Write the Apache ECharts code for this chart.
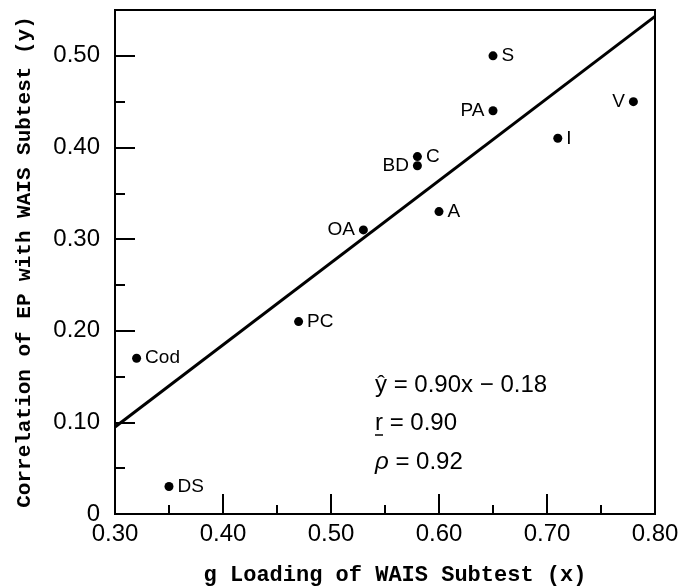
<!DOCTYPE html>
<html><head><meta charset="utf-8">
<script src="https://cdn.jsdelivr.net/npm/echarts@6/dist/echarts.min.js"></script>
<style>html,body{margin:0;padding:0;background:#fff}#c{width:690px;height:588px}</style>
</head><body><div id="c"></div>
<script>
const subtests = ['S', 'PA', 'V', 'I', 'C', 'BD', 'A', 'OA', 'PC', 'Cod', 'DS'];
const gLoading = [0.65, 0.65, 0.78, 0.71, 0.58, 0.58, 0.60, 0.53, 0.47, 0.32, 0.35];
const epCorr   = [0.50, 0.44, 0.45, 0.41, 0.39, 0.38, 0.33, 0.31, 0.21, 0.17, 0.03];
const fitX = [0.30, 0.80];
const fitY = [0.095, 0.543];
const xTickLabels = ['0.30', '0.40', '0.50', '0.60', '0.70', '0.80'];
const yTickLabels = ['0', '0.10', '0.20', '0.30', '0.40', '0.50'];
const annotLines = ['ŷ = 0.90x − 0.18', 'r = 0.90', '{i|ρ} = 0.92'];

const leftLabeled = new Set(['PA', 'V', 'BD', 'OA']);
const FONT = 'Liberation Sans, Arial, sans-serif';
const TITLE_FONT = 'Liberation Mono, DejaVu Sans Mono, monospace';

const chart = echarts.init(document.getElementById('c'), null, {renderer: 'canvas'});

const scatterData = subtests.map((n, i) => ({
  name: n,
  value: [gLoading[i], epCorr[i]],
  label: {position: leftLabeled.has(n) ? 'left' : 'right'}
}));
const fitData = fitX.map((x, i) => [x, fitY[i]]);

const tickStyle = {color: '#000', width: 2};
const annotY = [385, 423, 462];

const graphics = annotLines.map((t, i) => ({
  type: 'text', x: 375, y: annotY[i],
  style: {text: t, fontSize: 24, fontFamily: FONT, fill: '#000', verticalAlign: 'middle',
          rich: {i: {fontStyle: 'italic', fontSize: 24, fontFamily: FONT, fill: '#000'}}}
}));
graphics.push({type: 'line', shape: {x1: 375, y1: 435, x2: 383, y2: 435}, style: {stroke: '#000', lineWidth: 1.5}});

chart.setOption({
  animation: false,
  backgroundColor: '#fff',
  grid: {left: 115, right: 35, top: 10, bottom: 74, show: true, borderColor: '#000', borderWidth: 2, outerBoundsMode: 'none', containLabel: false},
  xAxis: {
    type: 'value', min: 0.3, max: 0.8, interval: 0.1,
    axisLine: {show: true, lineStyle: tickStyle},
    axisTick: {show: true, inside: true, length: 20, lineStyle: tickStyle},
    minorTick: {show: true, splitNumber: 2, length: 9, lineStyle: tickStyle},
    splitLine: {show: false},
    axisLabel: {
      margin: 8, fontSize: 24, color: '#000', fontFamily: FONT,
      formatter: v => xTickLabels[Math.round((v - 0.3) / 0.1)] || ''
    },
    name: 'g Loading of WAIS Subtest (x)', nameLocation: 'middle', nameGap: 50,
    nameTextStyle: {fontSize: 22, fontFamily: TITLE_FONT, color: '#000', fontWeight: 'bold', padding: [0, 0, 0, 20]}
  },
  yAxis: [{
    type: 'value', min: 0, max: 0.55, interval: 0.1,
    axisLine: {show: true, lineStyle: tickStyle},
    axisTick: {show: true, inside: true, length: 20, lineStyle: tickStyle},
    splitLine: {show: false},
    axisLabel: {
      margin: 15, fontSize: 24, color: '#000', fontFamily: FONT,
      formatter: v => (v > 0.51 ? '' : (yTickLabels[Math.round(v / 0.1)] || ''))
    },
    name: 'Correlation of EP with WAIS Subtest (y)', nameLocation: 'middle', nameGap: 80,
    nameTextStyle: {fontSize: 21, fontFamily: TITLE_FONT, color: '#000', fontWeight: 'bold'}
  }, {
    type: 'value', min: 0, max: 0.55, interval: 0.05, position: 'left',
    axisLine: {show: false},
    axisTick: {show: true, inside: true, length: 10, lineStyle: tickStyle},
    axisLabel: {show: false},
    splitLine: {show: false}
  }],
  series: [{
    type: 'line', data: fitData, symbol: 'none', silent: true,
    lineStyle: {color: '#000', width: 3}
  }, {
    type: 'scatter', data: scatterData, symbol: 'circle', symbolSize: 9,
    itemStyle: {color: '#000', opacity: 1},
    label: {show: true, formatter: '{b}', distance: 4, fontSize: 19, color: '#000', opacity: 1, fontFamily: FONT}
  }],
  graphic: graphics
});
</script></body></html>
